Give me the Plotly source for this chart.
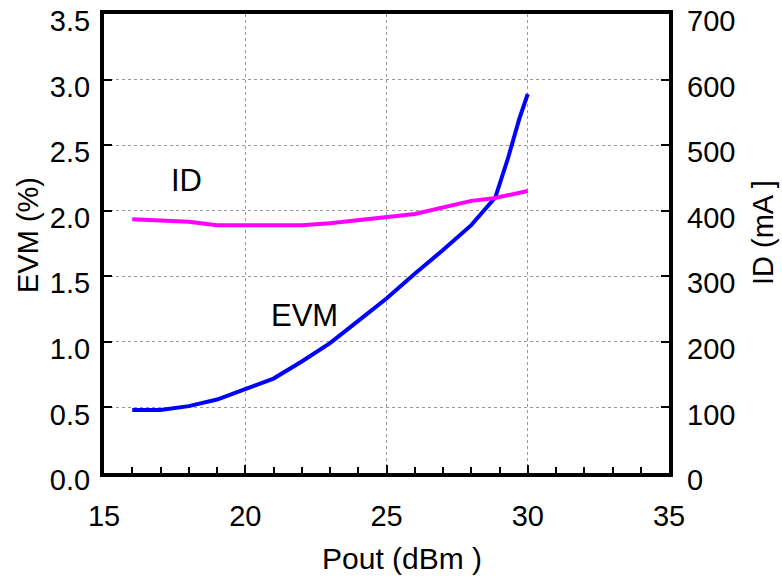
import plotly.graph_objects as go

# Data
evm_pout = [16, 17, 18, 19, 20, 21, 22, 23, 24, 25, 26, 27, 28, 28.85, 29.3, 29.7, 30]
evm_pct = [0.48, 0.48, 0.51, 0.56, 0.64, 0.72, 0.85, 0.99, 1.16, 1.33, 1.52, 1.70, 1.89, 2.10, 2.40, 2.70, 2.89]

id_pout = [16, 18, 19, 22, 23, 25, 26, 28, 28.8, 30]
id_ma = [387, 383, 378, 378, 381, 391, 395, 415, 419, 430]

x_ticks = [15, 20, 25, 30, 35]
evm_ticks = [0.0, 0.5, 1.0, 1.5, 2.0, 2.5, 3.0, 3.5]
id_ticks = [0, 100, 200, 300, 400, 500, 600, 700]

FONT = "Liberation Sans, Arial, sans-serif"
TICK = 29
TITLE = 30
W, H = 782, 578
L, R, T, B = 104, 669, 14, 473  # plot edges in window pixels

fig = go.Figure()
fig.add_trace(go.Scatter(x=evm_pout, y=evm_pct, mode="lines",
                         line=dict(color="#0000FF", width=4), name="EVM", yaxis="y"))
fig.add_trace(go.Scatter(x=id_pout, y=id_ma, mode="lines",
                         line=dict(color="#FF00FF", width=4), name="ID", yaxis="y2"))

fig.update_layout(
    width=W, height=H,
    margin=dict(l=L, r=W - R, t=T, b=H - B),
    paper_bgcolor="white", plot_bgcolor="white",
    showlegend=False,
    font=dict(family=FONT, size=TICK, color="black"),
    xaxis=dict(range=[15, 35], tickvals=x_ticks, ticktext=[str(v) for v in x_ticks],
               ticks="inside", ticklen=8, tickwidth=1.5, tickcolor="black",
               showline=True, linewidth=4, linecolor="black", mirror=True,
               showgrid=True, gridcolor="#999999", griddash="dot", gridwidth=1,
               minor=dict(dtick=1, ticks="inside", ticklen=6, tickwidth=1.5,
                          tickcolor="black", showgrid=False),
               tickfont=dict(size=TICK), ticklabelstandoff=14, zeroline=False,
               automargin=False, ticklabeloverflow="allow"),
    yaxis=dict(range=[0, 3.5], tickvals=evm_ticks, ticktext=[f"{v:.1f}" for v in evm_ticks],
               ticks="inside", ticklen=8, tickwidth=1.5, tickcolor="black",
               showline=True, linewidth=4, linecolor="black", mirror=True,
               showgrid=True, gridcolor="#999999", griddash="dot", gridwidth=1,
               tickfont=dict(size=TICK), ticklabelstandoff=4, ticklabelshift=7,
               zeroline=False, automargin=False, ticklabeloverflow="allow"),
    yaxis2=dict(range=[0, 700], tickvals=id_ticks, overlaying="y", side="right",
                ticks="inside", ticklen=8, tickwidth=1.5, tickcolor="black",
                showline=False, showgrid=False, zeroline=False,
                tickfont=dict(size=TICK), ticklabelstandoff=17, ticklabelshift=7,
                automargin=False, ticklabeloverflow="allow"),
)

ann = [
    dict(text="Pout (dBm )", x=402, y=558, angle=0, size=TITLE),
    dict(text="EVM (%)", x=28, y=235, angle=-90, size=TITLE - 1),
    dict(text="ID (mA ]", x=763, y=233, angle=-90, size=TITLE - 1),
    dict(text="ID", x=186, y=180, angle=0, size=TITLE + 1),
    dict(text="EVM", x=304, y=315, angle=0, size=TITLE + 1),
]
for a in ann:
    fig.add_annotation(text=a["text"], textangle=a["angle"],
                       x=(a["x"] - L) / (R - L), y=(B - a["y"]) / (B - T),
                       xref="paper", yref="paper", xanchor="center", yanchor="middle",
                       showarrow=False, font=dict(size=a["size"], family=FONT, color="black"))

fig.write_html("out.html", config={"displayModeBar": False},
               post_script="document.body.style.margin='0';")
